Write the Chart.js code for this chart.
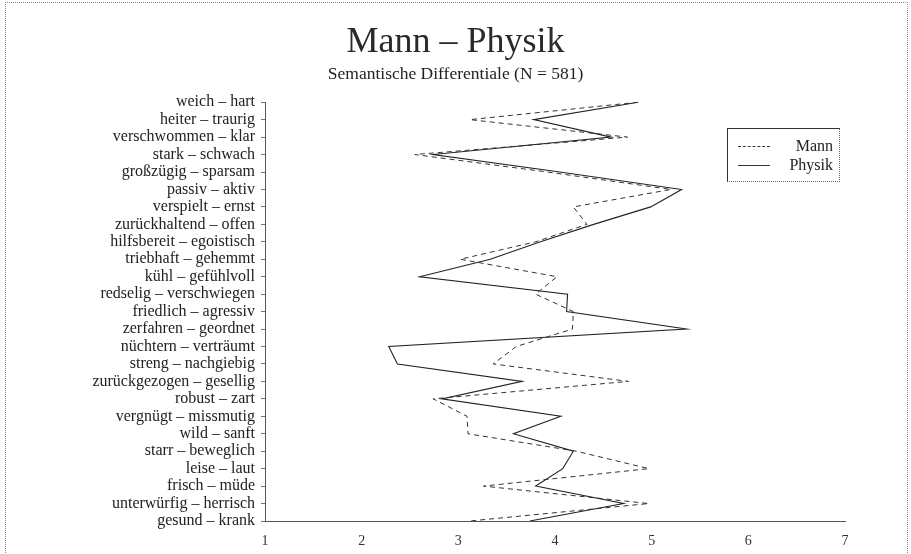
<!DOCTYPE html>
<html>
<head>
<meta charset="utf-8">
<script src="https://cdn.jsdelivr.net/npm/chart.js@4"></script>
<style>
  html, body { margin: 0; padding: 0; background: #fff; }
  #wrap { position: relative; width: 911px; height: 554px; }
  #frame { position: absolute; left: 5px; top: 2px; width: 901px; height: 560px;
           border-left: 1px dotted #888; border-top: 1px dotted #888; border-right: 1px dotted #888; }
  #legend { position: absolute; left: 727px; top: 128px; width: 111px; height: 52px;
            border: 1px solid #333; border-right: 1px dotted #666; border-bottom: 1px dotted #666;
            font-family: "Liberation Serif", serif; font-size: 16px; color: #222; }
  .row { position: absolute; left: 10px; right: 6px; height: 18px; }
  .row span { position: absolute; right: 0; top: 0; }
  .row i { position: absolute; left: 0; top: 9px; width: 32px; }
</style>
</head>
<body>
<div id="wrap">
  <canvas id="chart" width="911" height="554"></canvas>
  <div id="frame"></div>
  <div id="legend">
    <div class="row" style="top:8px"><i style="border-top:1px dashed #333"></i><span>Mann</span></div>
    <div class="row" style="top:27px"><i style="border-top:1px solid #333"></i><span>Physik</span></div>
  </div>
</div>
<script>
const categories = [
  'weich – hart', 'heiter – traurig', 'verschwommen – klar', 'stark – schwach',
  'großzügig – sparsam', 'passiv – aktiv', 'verspielt – ernst', 'zurückhaltend – offen',
  'hilfsbereit – egoistisch', 'triebhaft – gehemmt', 'kühl – gefühlvoll',
  'redselig – verschwiegen', 'friedlich – agressiv', 'zerfahren – geordnet',
  'nüchtern – verträumt', 'streng – nachgiebig', 'zurückgezogen – gesellig',
  'robust – zart', 'vergnügt – missmutig', 'wild – sanft', 'starr – beweglich',
  'leise – laut', 'frisch – müde', 'unterwürfig – herrisch', 'gesund – krank'
];

const mann = [4.86, 3.12, 4.75, 2.55, 3.92, 5.2, 4.19, 4.33, 3.8, 3.02, 4.02, 3.8, 4.19,
  4.18, 3.6, 3.36, 4.76, 2.74, 3.09, 3.1, 4.22, 4.97, 3.26, 4.97, 3.12];

const physik = [4.86, 3.78, 4.58, 2.74, 4.05, 5.31, 4.99, 4.4, 3.85, 3.33, 2.6, 4.13, 4.12,
  5.36, 2.28, 2.37, 3.66, 2.83, 4.06, 3.57, 4.19, 4.08, 3.8, 4.71, 3.74];

const xTicks = [1, 2, 3, 4, 5, 6, 7];

const serif = '"Liberation Serif", serif';

new Chart(document.getElementById('chart'), {
    type: 'line',
    data: {
        labels: categories,
        datasets: [
            { label: 'Mann', data: mann, borderColor: '#333', borderWidth: 1,
              borderDash: [5, 4], pointRadius: 0, fill: false, tension: 0 },
            { label: 'Physik', data: physik, borderColor: '#222', borderWidth: 1.1,
              pointRadius: 0, fill: false, tension: 0 }
        ]
    },
    options: {
        indexAxis: 'y',
        responsive: false,
        animation: false,
        // equal side padding keeps the titles centred on the page
        layout: { padding: { left: 66, right: 66, top: 0, bottom: 0 } },
        plugins: {
            legend: { display: false },
            tooltip: { enabled: false },
            title: {
                display: true,
                text: 'Mann – Physik',
                color: '#2a2a2a',
                font: { family: serif, size: 36, weight: 'normal' },
                padding: { top: 21, bottom: 0 }
            },
            subtitle: {
                display: true,
                text: 'Semantische Differentiale (N = 581)',
                color: '#222',
                font: { family: serif, size: 17.5, weight: 'normal' },
                padding: { top: 0, bottom: 17 }
            }
        },
        scales: {
            x: {
                type: 'linear',
                min: 1,
                max: 7,
                afterBuildTicks: s => { s.ticks = xTicks.map(v => ({ value: v })); },
                afterFit: s => { s.height = 33; },
                grid: { display: false },
                border: { display: true, color: '#555', dash: [2, 1] },
                ticks: { color: '#333', padding: 4, font: { family: serif, size: 14 } }
            },
            y: {
                type: 'category',
                offset: false,
                afterFit: s => { s.width = 199; },
                grid: { drawOnChartArea: false, tickLength: 4, color: '#777' },
                border: { display: true, color: '#555', dash: [2, 1] },
                ticks: { color: '#222', padding: 6, autoSkip: false,
                         font: { family: serif, size: 16 } }
            }
        }
    }
});
</script>
</body>
</html>
